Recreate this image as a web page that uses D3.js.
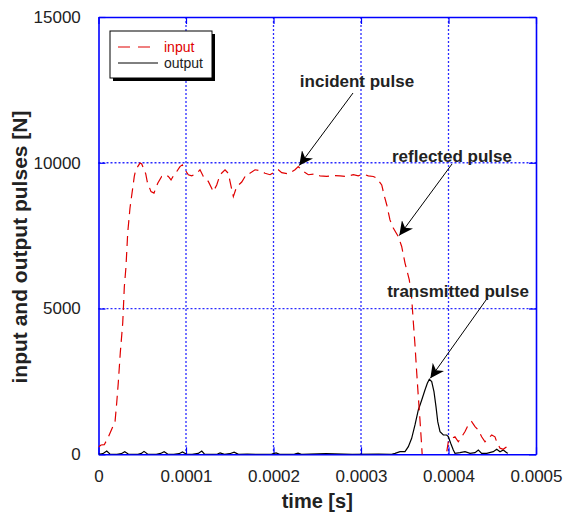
<!DOCTYPE html>
<html>
  <head>
    <meta charset="utf-8">
    <title>pulses</title>
    <script src="https://d3js.org/d3.v7.min.js"></script>
    <style>
      body { margin: 0; background: #fff; }
      text { font-family: "Liberation Sans", Arial, sans-serif; fill: #222; }
      .grid { stroke: #2a2aff; stroke-width: 1.3; stroke-dasharray: 2,2; }
      .lbl { font-weight: bold; }
    </style>
  </head>
  <body>
    <svg width="566" height="516"></svg>
  <script>
    // time in microseconds, force in N
    var inputTime = [0, 2.9, 6.6, 11.2, 18.9, 20.8, 22.6, 24.9, 27.7, 29.5, 31.4, 33.4, 36.0, 40.9, 42.5, 47.4, 49.4,
      54.0, 55.8, 60.0, 63.4, 67.7, 72.2, 77.1, 79.8, 82.9, 86.3, 89.4, 93.1, 95.8, 98.9, 102.6, 106.5, 112.2,
      116.0, 119.8, 125.5, 131.2, 135.1, 138.9, 144.6, 148.3, 150.3, 154.1, 157.9, 163.7, 169.4, 173.1, 178.9,
      184.6, 190.3, 196.0, 199.8, 205.5, 209.4, 216.9, 224.6, 228.3, 234.1, 239.8, 247.4, 253.1, 260.8, 268.3,
      276.0, 283.7, 291.2, 296.9, 302.6, 308.3, 314.1, 317.9, 323.7, 326.3, 329.4, 333.1, 336.9, 342.6, 346.5,
      350.3, 355.2, 357.9, 359.8, 361.7, 363.7, 365.5, 367.4, 369.4, 370.9, 376, 382, 390, 397, 399.8, 403.7,
      407.4, 411.2, 415.1, 418.9, 422.6, 426.5, 430.3, 434.1, 437.9, 441.7, 445.5, 449.4, 453.1, 455.1, 458.9,
      462.6, 465.7, 468.3];
    var inputForce = [250, 320, 330, 590, 1120, 1760, 2450, 3480, 4510, 5740, 6430, 7600, 8450, 9530, 9760, 9990, 9960,
      9620, 9340, 9010, 8960, 9300, 9530, 9590, 9530, 9410, 9590, 9700, 9870, 9930, 9760, 9590, 9550, 9640,
      9760, 9530, 9360, 9010, 9240, 9590, 9760, 9640, 9360, 8840, 9180, 9340, 9620, 9640, 9760,
      9730, 9640, 9590, 9660, 9760, 9660, 9620, 9760, 9870, 9700, 9590, 9620, 9550, 9530, 9560,
      9550, 9530, 9590, 9550, 9620, 9550, 9530, 9470, 9240, 8900, 8560, 8040, 7760, 7470, 7130,
      6560, 5980, 5360, 4540, 3750, 2790, 1980, 1180, 260, -540, -800, -600, -300, -100, 430, 550,
      600, 430, 600, 780, 1010, 1120, 950, 830, 600, 430, 550, 660, 600, 430, 210,
      170, 240, 320];

    var outputTime = [0, 5, 9.4, 13, 21, 26, 30, 34, 45, 49, 52, 56, 66, 71, 75, 79, 86, 92, 96, 100, 107, 114, 118, 121,
      130, 136, 139, 144, 150, 155, 160, 170, 180, 198, 203, 207, 218, 224, 228, 232, 260, 290, 320, 335,
      338.9, 344.6, 350.3, 354.1, 357.9, 361.7, 365.5, 369.4, 373.1, 375.8, 378.1, 380.8, 383.4, 385.7,
      387.7, 390.3, 394.1, 397.9, 399.8, 402.5, 405.5, 407.4, 413.1, 418.9, 424.6, 430.3, 434.1, 437.9,
      443.7, 451.2, 455.1, 458.9, 462.6, 466.5, 468];
    var outputForce = [0, 20, 110, 10, 0, 20, 90, 10, 0, 30, 100, 10, 0, 30, 90, 10, 0, 20, 80, 10, 0, 30, 110, 10,
      0, 10, 50, 0, 20, 70, 0, 10, 0, 10, 50, 0, 0, 10, 40, 0, 20, 0, 10, 0,
      34, 89, 89, 261, 549, 1006, 1521, 1864, 2207, 2437, 2574, 2492, 2148, 1634,
      1119, 776, 662, 662, 604, 378, 148, 34, 55, 89, 34, 55, 148, 34,
      34, 89, 172, 89, 148, 55, 40];

    var xTicks = [0, 0.0001, 0.0002, 0.0003, 0.0004, 0.0005];
    var xTickLabels = ["0", "0.0001", "0.0002", "0.0003", "0.0004", "0.0005"];
    var yTicks = [0, 5000, 10000, 15000];
    var yTickLabels = ["0", "5000", "10000", "15000"];

    var notes = ["incident pulse", "reflected pulse", "transmitted pulse"];
    var noteTime = [228.3, 342.6, 378.1];
    var noteForce = [9871, 7468, 2574];

    var svg = d3.select("svg"),
        mLeft = 98.5, mRight = 536, mTop = 17, mBottom = 454.3,
        width = mRight - mLeft, height = mBottom - mTop;

    var xScale = d3.scaleLinear().domain([0, 0.0005]).range([0, width]),
        yScale = d3.scaleLinear().domain([0, 15000]).range([height, 0]);

    var defs = svg.append("defs");
    defs.append("clipPath").attr("id", "clip")
      .append("rect").attr("width", width).attr("height", height);
    defs.append("marker")
      .attr("id", "arrow")
      .attr("viewBox", "0 0 10 10")
      .attr("refX", 10).attr("refY", 5)
      .attr("markerWidth", 14).attr("markerHeight", 14)
      .attr("markerUnits", "userSpaceOnUse")
      .attr("orient", "auto")
      .append("path")
      .attr("d", "M0,0 L10,5 L0,10 L3,5 Z")
      .attr("fill", "#000");

    var g = svg.append("g").attr("transform", "translate(" + mLeft + "," + mTop + ")");

    // grid
    g.selectAll(".gx").data(xTicks.slice(1, -1)).enter().append("line")
      .attr("class", "grid")
      .attr("x1", function(d) { return xScale(d); }).attr("x2", function(d) { return xScale(d); })
      .attr("y1", 0).attr("y2", height);
    g.selectAll(".gy").data(yTicks.slice(1, -1)).enter().append("line")
      .attr("class", "grid")
      .attr("y1", function(d) { return yScale(d); }).attr("y2", function(d) { return yScale(d); })
      .attr("x1", 0).attr("x2", width);

    // axes with inward ticks
    var axB = g.append("g").attr("transform", "translate(0," + height + ")")
      .call(d3.axisBottom(xScale).tickValues(xTicks).tickSizeInner(-7).tickSizeOuter(0)
        .tickPadding(16).tickFormat(function(d, i) { return xTickLabels[i]; }));
    var axL = g.append("g")
      .call(d3.axisLeft(yScale).tickValues(yTicks).tickSizeInner(-7).tickSizeOuter(0)
        .tickPadding(16).tickFormat(function(d, i) { return yTickLabels[i]; }));
    var axT = g.append("g")
      .call(d3.axisTop(xScale).tickValues(xTicks).tickSizeInner(-7).tickSizeOuter(0).tickFormat(""));
    var axR = g.append("g").attr("transform", "translate(" + width + ",0)")
      .call(d3.axisRight(yScale).tickValues(yTicks).tickSizeInner(-7).tickSizeOuter(0).tickFormat(""));

    [axB, axL, axT, axR].forEach(function(a) {
      a.select(".domain").attr("stroke", "#0000ff").attr("stroke-width", 1.6);
      a.selectAll(".tick line").attr("stroke", "#0000ff").attr("stroke-width", 1.2);
      a.selectAll("text").attr("font-size", "17px").attr("font-family", "Liberation Sans, Arial, sans-serif").attr("fill", "#222");
    });
    axL.selectAll("text").attr("dx", "-0.1em");

    // curves
    var inputData = inputTime.map(function(t, i) { return [t * 1e-6, inputForce[i]]; });
    var outputData = outputTime.map(function(t, i) { return [t * 1e-6, outputForce[i]]; });
    var line = d3.line()
      .x(function(d) { return xScale(d[0]); })
      .y(function(d) { return yScale(d[1]); });

    var plot = g.append("g").attr("clip-path", "url(#clip)");
    plot.append("path").datum(outputData)
      .attr("d", line).attr("fill", "none").attr("stroke", "#000").attr("stroke-width", 1.2);
    plot.append("path").datum(inputData)
      .attr("d", line).attr("fill", "none").attr("stroke", "#e00000").attr("stroke-width", 1.2)
      .attr("stroke-dasharray", "10,6");

    // annotations
    var noteBox = [[357, 87, 353, 93], [452, 162, 452, 164], [458, 297, 486, 300]];
    notes.forEach(function(n, i) {
      svg.append("text")
        .attr("class", "lbl")
        .attr("x", noteBox[i][0]).attr("y", noteBox[i][1])
        .attr("text-anchor", "middle")
        .attr("font-size", "17px")
        .text(n);
      svg.append("line")
        .attr("x1", noteBox[i][2]).attr("y1", noteBox[i][3])
        .attr("x2", mLeft + xScale(noteTime[i] * 1e-6) + 1)
        .attr("y2", mTop + yScale(noteForce[i]) - 1)
        .attr("stroke", "#000").attr("stroke-width", 1)
        .attr("marker-end", "url(#arrow)");
    });

    // legend
    var lg = svg.append("g").attr("transform", "translate(110,31)");
    lg.append("rect").attr("x", 3).attr("y", 3).attr("width", 102).attr("height", 47).attr("fill", "#000");
    lg.append("rect").attr("width", 102).attr("height", 47).attr("fill", "#fff").attr("stroke", "#000").attr("stroke-width", 1);
    lg.append("line").attr("x1", 8).attr("x2", 48).attr("y1", 16).attr("y2", 16)
      .attr("stroke", "#e00000").attr("stroke-width", 1.2).attr("stroke-dasharray", "12,8");
    lg.append("line").attr("x1", 8).attr("x2", 48).attr("y1", 32).attr("y2", 32)
      .attr("stroke", "#000").attr("stroke-width", 1);
    lg.append("text").attr("x", 54).attr("y", 20.5).attr("font-size", "14px").style("fill", "#e00000").text("input");
    lg.append("text").attr("x", 54).attr("y", 36.5).attr("font-size", "14px").text("output");

    // axis titles
    svg.append("text").attr("class", "lbl")
      .attr("x", mLeft + width / 2).attr("y", 508)
      .attr("text-anchor", "middle").attr("font-size", "20px")
      .text("time [s]");
    svg.append("text").attr("class", "lbl")
      .attr("transform", "translate(27,247) rotate(-90)")
      .attr("text-anchor", "middle").attr("font-size", "21px")
      .text("input and output pulses [N]");
  </script>
  </body>
</html>
